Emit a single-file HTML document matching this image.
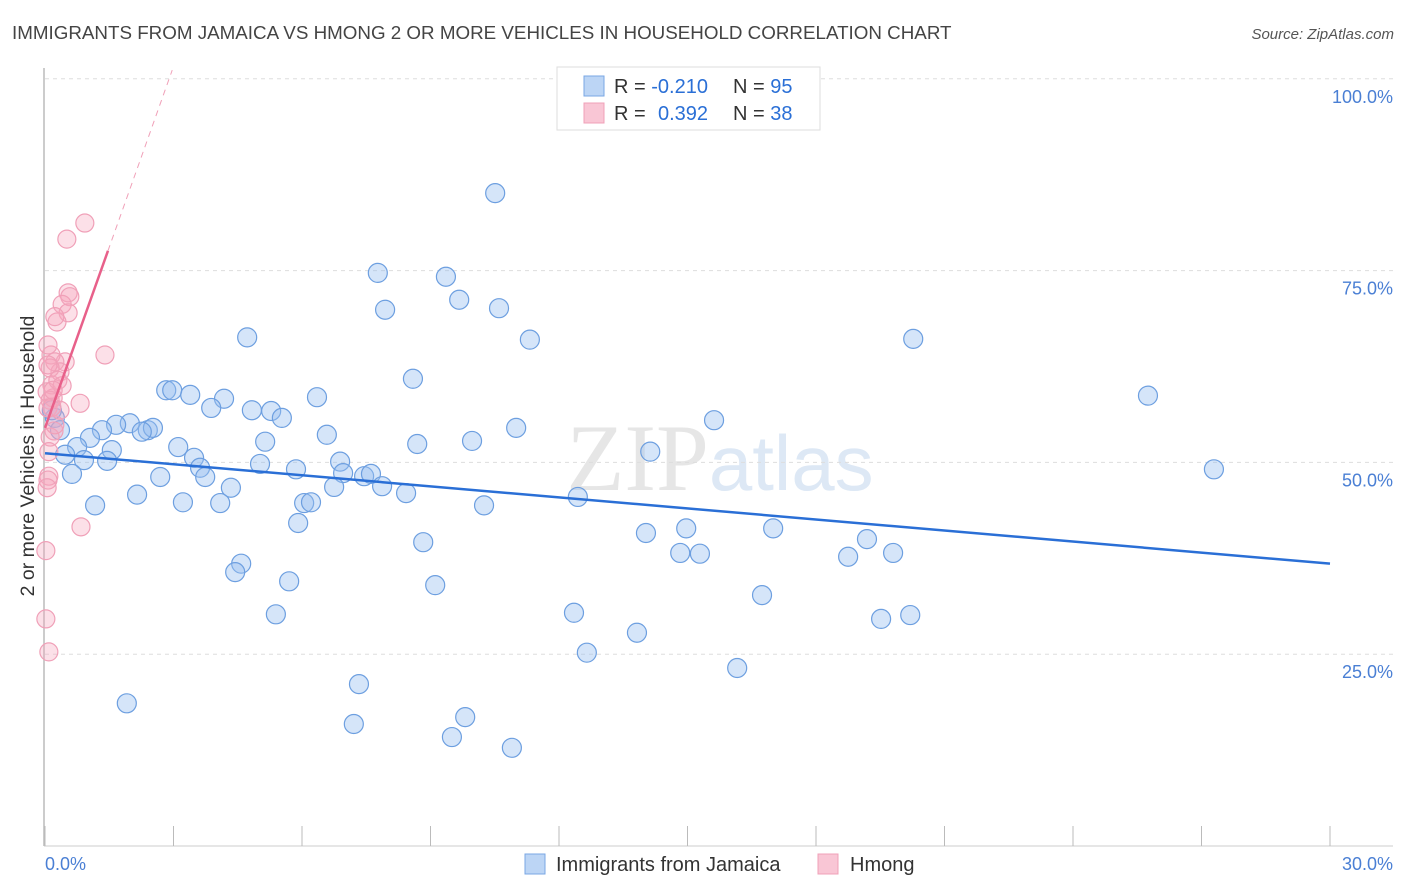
<!DOCTYPE html>
<html><head><meta charset="utf-8"><style>
body{margin:0;background:#fff;font-family:"Liberation Sans",sans-serif}
svg{display:block}
</style></head><body>
<svg id="chart" width="1406" height="892" viewBox="0 0 1406 892">
<text x="12" y="39" font-size="18.8" fill="#444">IMMIGRANTS FROM JAMAICA VS HMONG 2 OR MORE VEHICLES IN HOUSEHOLD CORRELATION CHART</text>
<text x="1394" y="39" font-size="15" fill="#555" font-style="italic" text-anchor="end">Source: ZipAtlas.com</text>
<text x="720" y="490" font-size="95" fill="#e6e6e6" text-anchor="middle" font-family="Liberation Serif,serif">ZIP<tspan fill="#dde8f5" font-family="Liberation Sans,sans-serif" font-size="78">atlas</tspan></text>
<g id="grid"></g>
<line x1="44" y1="68" x2="44" y2="846" stroke="#bbb" stroke-width="1.5"/>
<line x1="44" y1="846" x2="1393" y2="846" stroke="#ccc"/>
<g id="xticks"></g>
<text transform="translate(34,456) rotate(-90)" font-size="19.5" fill="#333" text-anchor="middle">2 or more Vehicles in Household</text>
<text x="45" y="870" font-size="18" fill="#4a7fd4">0.0%</text>
<text x="1393" y="870" font-size="18" fill="#4a7fd4" text-anchor="end">30.0%</text>
<g id="pts"></g>
<g id="lines"></g>
<g>
<rect x="557" y="67" width="263" height="63" fill="#fff" stroke="#ddd"/>
<rect x="584" y="76" width="20" height="20" fill="#bcd5f5" stroke="#7aa7e4"/>
<rect x="584" y="103" width="20" height="20" fill="#f9c6d5" stroke="#f0a0b8"/>
<text x="614" y="93" font-size="20" fill="#333">R = <tspan fill="#2a6fd6">-0.210</tspan><tspan x="733">N = </tspan><tspan fill="#2a6fd6">95</tspan></text>
<text x="614" y="120" font-size="20" fill="#333">R = <tspan fill="#2a6fd6" x="658">0.392</tspan><tspan x="733">N = </tspan><tspan fill="#2a6fd6">38</tspan></text>
</g>
<g>
<rect x="525" y="854" width="20" height="20" fill="#bcd5f5" stroke="#7aa7e4"/>
<text x="556" y="871" font-size="20" fill="#333">Immigrants from Jamaica</text>
<rect x="818" y="854" width="20" height="20" fill="#f9c6d5" stroke="#f0a0b8"/>
<text x="850" y="871" font-size="20" fill="#333">Hmong</text>
</g>
</svg>
<script>
const yTicks=[100,75,50,25];
const yTickLabels=["100.0%","75.0%","50.0%","25.0%"];
const xTickVals=[0,3,6,9,12,15,18,21,24,27,30];
const blueX=[10.51,7.77,9.36,9.67,7.94,10.6,11.32,20.27,4.72,8.59,2.83,2.97,3.39,4.18,3.88,4.83,5.28,5.53,6.35,1.98,1.66,1.33,2.4,2.52,2.26,1.05,0.75,1.56,3.11,0.47,0.91,1.45,3.48,5.14,6.58,8.69,9.97,11,15.62,25.75,14.13,27.29,5.02,5.86,6.89,6.96,7.45,7.61,7.87,8.43,3.62,3.74,2.69,0.63,4.34,2.15,3.22,4.09,1.17,6.05,6.21,6.75,10.25,12.44,5.91,8.83,14.03,14.97,14.83,15.29,17,19.19,18.75,19.8,4.58,4.44,5.7,9.11,16.74,5.39,12.35,13.82,19.52,20.2,12.65,16.16,1.91,7.33,7.21,9.81,9.5,10.9,0.23,0.16,0.35];
const blueY=[85.1,74.7,74.2,71.2,69.9,70.1,66,66.1,66.3,60.9,59.4,59.4,58.8,58.3,57.1,56.8,56.7,55.8,58.5,55.1,54.9,54.2,54.2,54.5,54,53.2,52,51.6,52,51,50.3,50.2,50.6,52.7,53.6,52.4,52.8,54.5,55.5,58.7,51.4,49.1,49.8,49.1,50.1,48.6,48.2,48.5,46.9,46,49.3,48.1,48.1,48.5,46.7,45.8,44.8,44.7,44.4,44.7,44.8,46.8,44.4,45.5,42.1,39.6,40.8,41.4,38.2,38.1,41.4,40,37.7,38.2,36.8,35.7,34.5,34,32.7,30.2,30.4,27.8,29.6,30.1,25.2,23.2,18.6,21.1,15.9,16.8,14.2,12.8,55.8,56.8,54.2];
const pinkX=[0.93,0.51,0.54,0.58,0.4,0.54,0.28,0.23,1.4,0.47,0.14,0.23,0.07,0.35,0.12,0.16,0.05,0.19,0.82,0.12,0.07,0.21,0.12,0.09,0.09,0.07,0.05,0.84,0.02,0.02,0.09,0.16,0.23,0.3,0.4,0.07,0.19,0.35];
const pinkY=[81.2,79.1,72.1,71.6,70.6,69.5,68.3,69,64,63.1,64,63.1,65.3,61.8,62.3,60.1,59.2,58.4,57.7,58.1,57.1,54.1,53.3,51.4,48.2,47.7,46.7,41.6,38.5,29.6,25.3,57.2,54.9,60.7,60,62.7,59.4,56.8];
const blueTrend=[51.2,36.8];
const pinkTrend=[54.5,15.7];
const pinkSolidEnd=1.47, pinkDashEnd=2.97;

const NS="http://www.w3.org/2000/svg";
const X=v=>45+v*(1285/30);
const Y=v=>846-v*7.672;
function mk(tag,attrs,parent){const e=document.createElementNS(NS,tag);for(const k in attrs)e.setAttribute(k,attrs[k]);parent.appendChild(e);return e;}
const grid=document.getElementById('grid');
yTicks.forEach((t,i)=>{
  const l=mk('line',{x1:45,x2:1393,y1:Y(t),y2:Y(t),stroke:'#ddd','stroke-dasharray':'4,4'},grid);
  
  
  const tx=mk('text',{x:1393,y:Y(t)+24,'font-size':18,fill:'#4a7fd4','text-anchor':'end'},grid);
  tx.textContent=yTickLabels[i];
  
  
});
const xt=document.getElementById('xticks');
xTickVals.forEach(v=>{
  const l=mk('line',{x1:X(v),x2:X(v),y1:826,y2:846,stroke:'#bbb'},xt);
  
  
});
const pts=document.getElementById('pts');
blueX.forEach((v,i)=>{
  const c=mk('circle',{cx:X(v),cy:Y(blueY[i]),r:9.5,fill:'rgba(150,190,240,0.4)',stroke:'#6d9fe0','stroke-width':1.2},pts);
  
  
});
pinkX.forEach((v,i)=>{
  const c=mk('circle',{cx:X(v),cy:Y(pinkY[i]),r:9,fill:'rgba(245,165,190,0.35)',stroke:'#f0a0b8','stroke-width':1.2},pts);
  
  
});
const lines=document.getElementById('lines');
const bl=mk('line',{x1:X(0),y1:Y(blueTrend[0]),x2:X(30),y2:Y(blueTrend[1]),stroke:'#2a6fd6','stroke-width':2.5},lines);


const pf=x=>pinkTrend[0]+pinkTrend[1]*x;
const ps=mk('line',{x1:X(0),y1:Y(pf(0)),x2:X(pinkSolidEnd),y2:Y(pf(pinkSolidEnd)),stroke:'#e8608a','stroke-width':2.5},lines);


const pd=mk('line',{x1:X(pinkSolidEnd),y1:Y(pf(pinkSolidEnd)),x2:X(pinkDashEnd),y2:Y(pf(pinkDashEnd)),stroke:'#f0a0b8','stroke-width':1,'stroke-dasharray':'6,5'},lines);


</script>
</body></html>
